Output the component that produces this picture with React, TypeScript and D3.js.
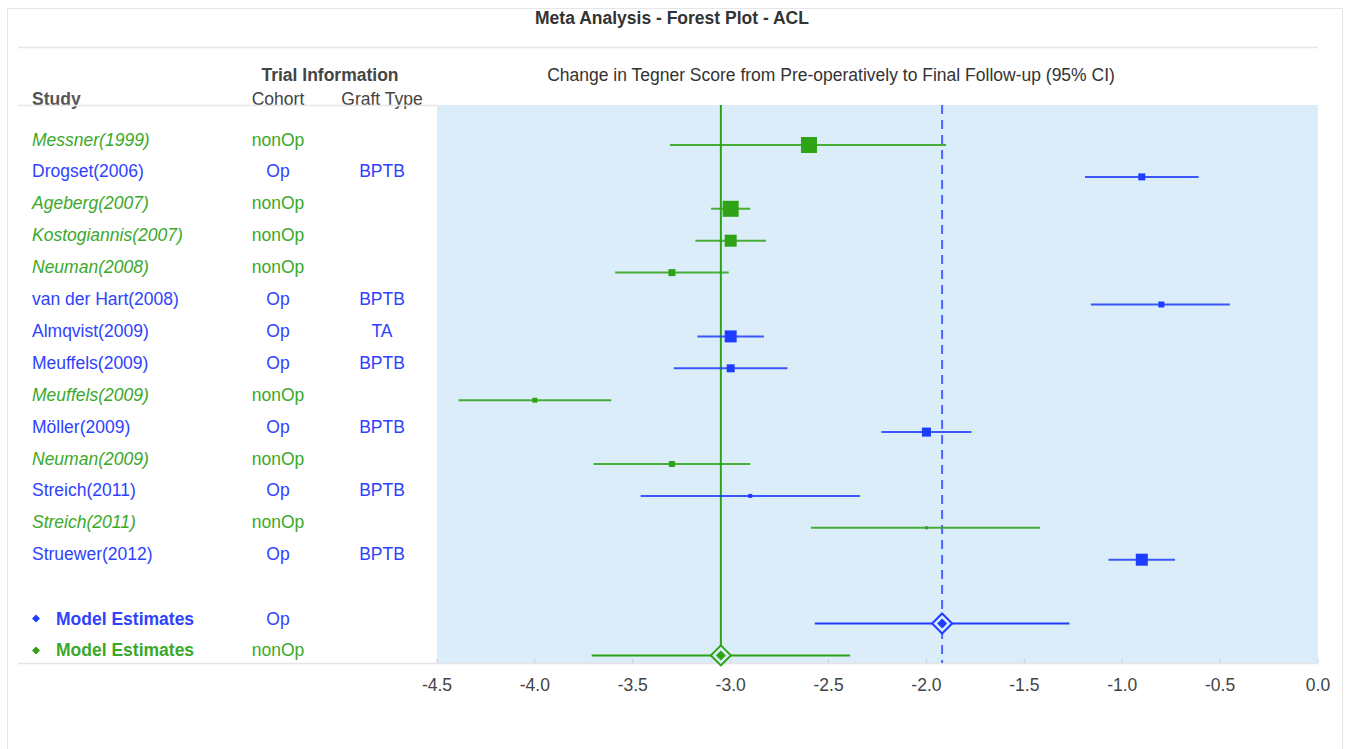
import React from "react";
import * as d3 from "d3";

const studies = ["Messner(1999)", "Drogset(2006)", "Ageberg(2007)", "Kostogiannis(2007)", "Neuman(2008)", "van der Hart(2008)", "Almqvist(2009)", "Meuffels(2009)", "Meuffels(2009)", "Möller(2009)", "Neuman(2009)", "Streich(2011)", "Streich(2011)", "Struewer(2012)"];
const cohorts = ["nonOp", "Op", "nonOp", "nonOp", "nonOp", "Op", "Op", "Op", "nonOp", "Op", "nonOp", "Op", "nonOp", "Op"];
const graftTypes = ["", "BPTB", "", "", "", "BPTB", "TA", "BPTB", "", "BPTB", "", "BPTB", "", "BPTB"];
const estimates = [-2.6, -0.9, -3.0, -3.0, -3.3, -0.8, -3.0, -3.0, -4.0, -2.0, -3.3, -2.9, -2.0, -0.9];
const lowerCI = [-3.31, -1.19, -3.1, -3.18, -3.59, -1.16, -3.17, -3.29, -4.39, -2.23, -3.7, -3.46, -2.59, -1.07];
const upperCI = [-1.9, -0.61, -2.9, -2.82, -3.01, -0.45, -2.83, -2.71, -3.61, -1.77, -2.9, -2.34, -1.42, -0.73];
const weights = [16, 7, 16, 12, 7, 6, 12, 8, 5, 9, 6, 4, 3, 12];

const modelCohorts = ["Op", "nonOp"];
const modelEstimates = [-1.92, -3.05];
const modelLower = [-2.57, -3.71];
const modelUpper = [-1.27, -2.39];

const xTicks = [-4.5, -4.0, -3.5, -3.0, -2.5, -2.0, -1.5, -1.0, -0.5, 0.0];

const BLUE = "#1f3dff";
const GREEN = "#2ea315";
const BLUE_TEXT = "#2e42ff";
const GREEN_TEXT = "#3aa92a";
const colorOf = (c: string) => (c === "Op" ? BLUE : GREEN);
const textColorOf = (c: string) => (c === "Op" ? BLUE_TEXT : GREEN_TEXT);
const FONT = "'Liberation Sans', Arial, sans-serif";
const FS = 17.5;

export default function App() {
  const W = 1346, H = 749;
  const plotL = 437, plotR = 1318, plotT = 105, plotB = 663;
  const x = d3.scaleLinear().domain([-4.5, 0]).range([plotL, plotR]);
  const y = d3.scaleLinear().domain([0, 16]).range([145, 655.4]);
  const size = d3.scaleLinear().domain([0, 16]).range([0, 16]);
  const fmt = (v: number) => d3.format(".1f")(v).replace("\u2212", "-");

  const diamond = (cx: number, cy: number, r: number) =>
    `M${cx},${cy - r}L${cx + r},${cy}L${cx},${cy + r}L${cx - r},${cy}Z`;

  return (
    <svg width={W} height={H} style={{ position: "absolute", left: 0, top: 0, display: "block" }} fontFamily={FONT}>
      <rect x={0} y={0} width={W} height={H} fill="#fff" />
      <rect x={7.5} y={8.5} width={1335} height={760} fill="none" stroke="#e6e6e6" />
      <text x={672} y={18} textAnchor="middle" dominantBaseline="central" fontSize={FS} fontWeight="bold" fill="#333">
        Meta Analysis - Forest Plot - ACL
      </text>
      <line x1={18} x2={1318} y1={47.5} y2={47.5} stroke="#e8e8e8" strokeWidth={1.5} />
      <text x={330} y={75} textAnchor="middle" dominantBaseline="central" fontSize={FS} fontWeight="bold" fill="#444">Trial Information</text>
      <text x={32} y={99} dominantBaseline="central" fontSize={FS} fontWeight="bold" fill="#555">Study</text>
      <text x={278} y={99} textAnchor="middle" dominantBaseline="central" fontSize={FS} fill="#444">Cohort</text>
      <text x={382} y={99} textAnchor="middle" dominantBaseline="central" fontSize={FS} fill="#444">Graft Type</text>
      <text x={831} y={75} textAnchor="middle" dominantBaseline="central" fontSize={FS} fill="#333">
        Change in Tegner Score from Pre-operatively to Final Follow-up (95% CI)
      </text>
      <line x1={18} x2={plotL} y1={105.5} y2={105.5} stroke="#e8e8e8" strokeWidth={1.5} />
      <rect x={plotL} y={plotT} width={plotR - plotL} height={plotB - plotT} fill="#dbedf9" />
      <line x1={18} x2={plotR} y1={plotB + 0.5} y2={plotB + 0.5} stroke="#e4e4e4" strokeWidth={1.5} />
      {xTicks.map((t) => (
        <g key={t}>
          <line x1={x(t)} x2={x(t)} y1={plotB - 4} y2={plotB} stroke="#ccd" strokeWidth={1} />
          <text x={x(t)} y={685} textAnchor="middle" dominantBaseline="central" fontSize={FS} fill="#444">{fmt(t)}</text>
        </g>
      ))}
      <line x1={x(modelEstimates[1])} x2={x(modelEstimates[1])} y1={plotT} y2={plotB} stroke={GREEN} strokeWidth={2} />
      <line x1={x(modelEstimates[0])} x2={x(modelEstimates[0])} y1={plotT} y2={plotB} stroke="#4a66ff" strokeWidth={2} strokeDasharray="9,6" />
      {studies.map((s, i) => {
        const c = colorOf(cohorts[i]);
        const tc = textColorOf(cohorts[i]);
        const cy = y(i);
        const sz = size(weights[i]);
        const italic = cohorts[i] === "nonOp";
        return (
          <g key={i}>
            <text x={32} y={cy - 5.5} dominantBaseline="central" fontSize={FS} fill={tc} fontStyle={italic ? "italic" : "normal"}>{s}</text>
            <text x={278} y={cy - 5.5} textAnchor="middle" dominantBaseline="central" fontSize={FS} fill={tc}>{cohorts[i]}</text>
            <text x={382} y={cy - 5.5} textAnchor="middle" dominantBaseline="central" fontSize={FS} fill={tc}>{graftTypes[i]}</text>
            <line x1={x(lowerCI[i])} x2={x(upperCI[i])} y1={cy} y2={cy} stroke={c} strokeWidth={2} opacity={0.85} />
            <rect x={x(estimates[i]) - sz / 2} y={cy - sz / 2} width={sz} height={sz} fill={c} />
          </g>
        );
      })}
      {modelCohorts.map((m, j) => {
        const c = colorOf(m);
        const tc = textColorOf(m);
        const cy = y(15 + j);
        const cx = x(modelEstimates[j]);
        return (
          <g key={m}>
            <path d={diamond(36, cy - 5, 4)} fill={c} />
            <text x={56} y={cy - 5} dominantBaseline="central" fontSize={FS} fontWeight="bold" fill={tc}>Model Estimates</text>
            <text x={278} y={cy - 5} textAnchor="middle" dominantBaseline="central" fontSize={FS} fill={tc}>{m}</text>
            <line x1={x(modelLower[j])} x2={x(modelUpper[j])} y1={cy} y2={cy} stroke={c} strokeWidth={2} />
            <path d={diamond(cx, cy, 10)} fill="#dbedf9" stroke={c} strokeWidth={2} />
            <path d={diamond(cx, cy, 5)} fill={c} />
          </g>
        );
      })}
    </svg>
  );
}
